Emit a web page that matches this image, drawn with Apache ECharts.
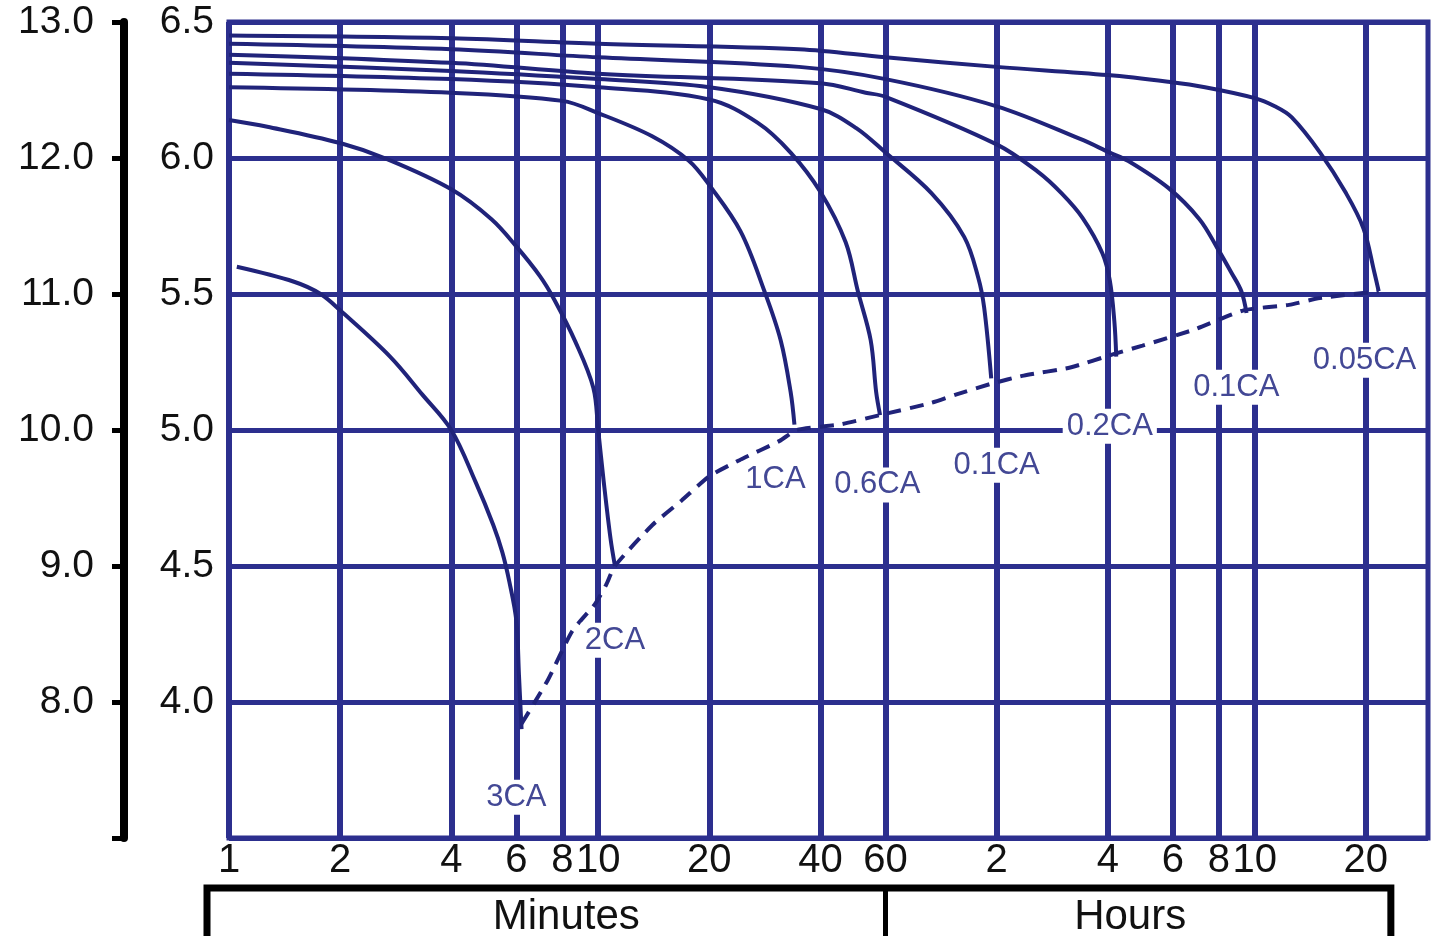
<!DOCTYPE html>
<html>
<head>
<meta charset="utf-8">
<script src="https://cdn.jsdelivr.net/npm/echarts@6/dist/echarts.min.js"></script>
<style>
html,body{margin:0;padding:0;background:#ffffff;}
#c{width:1431px;height:936px;}
</style>
</head>
<body>
<div id="c"></div>
<script>
// ---- data (minutes, volts per 6V battery) ----
const xTicks = [1, 2, 4, 6, 8, 10, 20, 40, 60, 120, 240, 360, 480, 600, 1200];
const yTicks6V = [3.5, 4.0, 4.5, 5.0, 5.5, 6.0, 6.5];
const yTicks12V = [7, 8, 9, 10, 11, 12, 13];

const dis3CA = [[1.05,5.6],[1.5,5.545],[1.77,5.5],[2,5.44],[2.73,5.27],[3.34,5.13],[4,5.0],[4.65,4.81],[5.2,4.65],[5.5,4.55],[5.75,4.44],[6.0,4.3],[6.1,4.1],[6.2,3.9]];
const dis2CA = [[1,6.14],[1.27,6.115],[2,6.055],[2.69,5.995],[4,5.885],[5.14,5.775],[6,5.675],[6.96,5.565],[7.6,5.48],[8.67,5.325],[9.7,5.155],[10,5.0],[10.35,4.81],[10.8,4.6],[11.1,4.5]];
const dis1CA = [[1,6.26],[4,6.24],[8,6.21],[10,6.165],[14,6.08],[17.6,5.99],[20,5.9],[24.3,5.73],[28.2,5.51],[31.2,5.33],[33.2,5.14],[34,5.02]];
const dis06CA = [[1,6.31],[4,6.29],[10,6.26],[20,6.215],[27,6.13],[33.2,6.02],[40,5.875],[46.8,5.69],[50.5,5.51],[54.7,5.33],[56.6,5.14],[58,5.055]];
const dis04CA = [[1,6.35],[4,6.32],[10,6.29],[20,6.26],[40,6.18],[50,6.11],[60,6.02],[80,5.87],[98,5.71],[107,5.56],[111,5.45],[116,5.19]];
const dis02CA = [[1,6.38],[4,6.35],[10,6.31],[40,6.275],[53,6.24],[60,6.225],[120,6.05],[155,5.95],[180,5.87],[205,5.78],[232,5.65],[243,5.55],[250,5.4],[253,5.27]];
const dis01CA = [[1,6.42],[4,6.40],[10,6.37],[35,6.335],[60,6.29],[120,6.19],[202,6.07],[243,6.02],[272,5.99],[350,5.89],[425,5.775],[477,5.665],[518,5.58],[552,5.51],[570,5.43]];
const dis005CA = [[1,6.45],[4,6.44],[10,6.42],[35,6.40],[60,6.37],[120,6.335],[240,6.305],[350,6.28],[440,6.26],[600,6.22],[680,6.19],[755,6.15],[902,6.02],[1061,5.87],[1183,5.74],[1265,5.58],[1300,5.51]];
const endVoltage = [[6.2,3.92],[7.3,4.08],[8.5,4.26],[9.8,4.36],[10.5,4.43],[11.1,4.5],[14,4.65],[16.8,4.74],[20,4.83],[24.2,4.89],[31,4.96],[34.5,5.0],[45,5.02],[58,5.055],[80,5.1],[93,5.13],[116,5.17],[142,5.2],[190,5.23],[250,5.28],[298,5.31],[413,5.37],[560,5.44],[743,5.46],[900,5.485],[1300,5.51]];

const curveLabels = ['3CA','2CA','1CA','0.6CA','0.1CA','0.2CA','0.1CA','0.05CA'];
const labelAnchors = [[6,3.65],[11.1,4.227],[30.2,4.82],[57,4.798],[120,4.87],[243,5.014],[535,5.157],[1190,5.256]];
const groupLabels = ['Minutes', 'Hours'];

// ---- styles ----
const GRID = '#2c2f8e';
const CURVE = '#20237a';
const LABEL = '#434895';
const FONT = '"Liberation Sans", Arial, sans-serif';

const curves = [dis3CA, dis2CA, dis1CA, dis06CA, dis04CA, dis02CA, dis01CA, dis005CA];

const chart = echarts.init(document.getElementById('c'), null, {renderer: 'canvas'});

const fmtX = v => {
  const r = Math.round(v);
  return r <= 60 ? String(r) : String(Math.round(r / 60));
};

const series = curves.map((d, i) => ({
  type: 'line',
  name: curveLabels[i],
  data: d,
  showSymbol: false,
  smooth: 0.35,
  lineStyle: {color: CURVE, width: 4},
  z: 3,
  silent: true
}));

series.push({
  type: 'line',
  name: 'end',
  data: endVoltage,
  showSymbol: false,
  smooth: 0.2,
  lineStyle: {color: CURVE, width: 4, type: [14, 9]},
  z: 3,
  silent: true
});

series.push({
  type: 'scatter',
  name: 'labels',
  data: labelAnchors.map((p, i) => ({value: p, labelText: curveLabels[i]})),
  symbolSize: 1,
  itemStyle: {color: '#ffffff', opacity: 1},
  z: 5,
  silent: true,
  label: {
    show: true,
    position: 'inside',
    formatter: p => p.data.labelText,
    color: LABEL,
    opacity: 1,
    fontSize: 31,
    fontFamily: FONT,
    backgroundColor: '#ffffff',
    padding: [3, 4, 1, 4]
  }
});

chart.setOption({
  animation: false,
  backgroundColor: '#ffffff',
  grid: {left: 229, right: 3, top: 22, bottom: 98, show: true, borderColor: GRID, borderWidth: 5, backgroundColor: 'transparent'},
  xAxis: {
    type: 'log', logBase: 10, min: 1, max: 1768,
    axisLine: {show: false},
    axisTick: {show: false, customValues: xTicks},
    axisLabel: {customValues: xTicks, formatter: fmtX, fontSize: 40, color: '#111', margin: 3, fontFamily: FONT},
    splitLine: {show: true, lineStyle: {color: GRID, width: 6}},
    minorTick: {show: false}, minorSplitLine: {show: false}
  },
  yAxis: [
    {
      type: 'value', min: yTicks6V[0], max: yTicks6V[yTicks6V.length - 1], interval: 0.5, position: 'left',
      axisLine: {show: false}, axisTick: {show: false},
      axisLabel: {formatter: v => (Math.abs(v - yTicks6V[0]) < 1e-6 ? '' : v.toFixed(1)), fontSize: 39, color: '#111', margin: 15, fontFamily: FONT},
      splitLine: {show: true, lineStyle: {color: GRID, width: 5}}
    },
    {
      type: 'value', min: yTicks12V[0], max: yTicks12V[yTicks12V.length - 1], interval: 1, position: 'left', offset: 105,
      axisLine: {show: true, lineStyle: {color: '#000', width: 8}},
      axisTick: {show: true, length: 12, lineStyle: {color: '#000', width: 5}},
      axisLabel: {formatter: v => (v === yTicks12V[0] ? '' : v.toFixed(1)), fontSize: 39, color: '#111', margin: 30, fontFamily: FONT},
      splitLine: {show: false}
    }
  ],
  series: series
});

// bracket under the x axis: Minutes | Hours
const gx1 = chart.convertToPixel({xAxisIndex: 0}, 1);
const gx60 = chart.convertToPixel({xAxisIndex: 0}, 60);
const gx1200 = chart.convertToPixel({xAxisIndex: 0}, 1200);
const gyb = chart.convertToPixel({yAxisIndex: 0}, yTicks6V[0]);
const BL = gx1 - 22, BR = gx1200 + 25, BY = gyb + 50;
chart.setOption({
  graphic: [
    {type: 'polyline', shape: {points: [[BL, 950], [BL, BY], [BR, BY], [BR, 950]]}, style: {stroke: '#000', lineWidth: 7, fill: null}, z: 10},
    {type: 'line', shape: {x1: gx60, y1: BY, x2: gx60, y2: 950}, style: {stroke: '#000', lineWidth: 5}, z: 10},
    {type: 'text', x: (BL + gx60) / 2 + 20, y: BY + 8, style: {text: groupLabels[0], fontSize: 42, fontFamily: FONT, fill: '#111', align: 'center', verticalAlign: 'top'}, z: 10},
    {type: 'text', x: (gx60 + BR) / 2 - 8, y: BY + 8, style: {text: groupLabels[1], fontSize: 42, fontFamily: FONT, fill: '#111', align: 'center', verticalAlign: 'top'}, z: 10}
  ]
});
</script>
</body>
</html>
